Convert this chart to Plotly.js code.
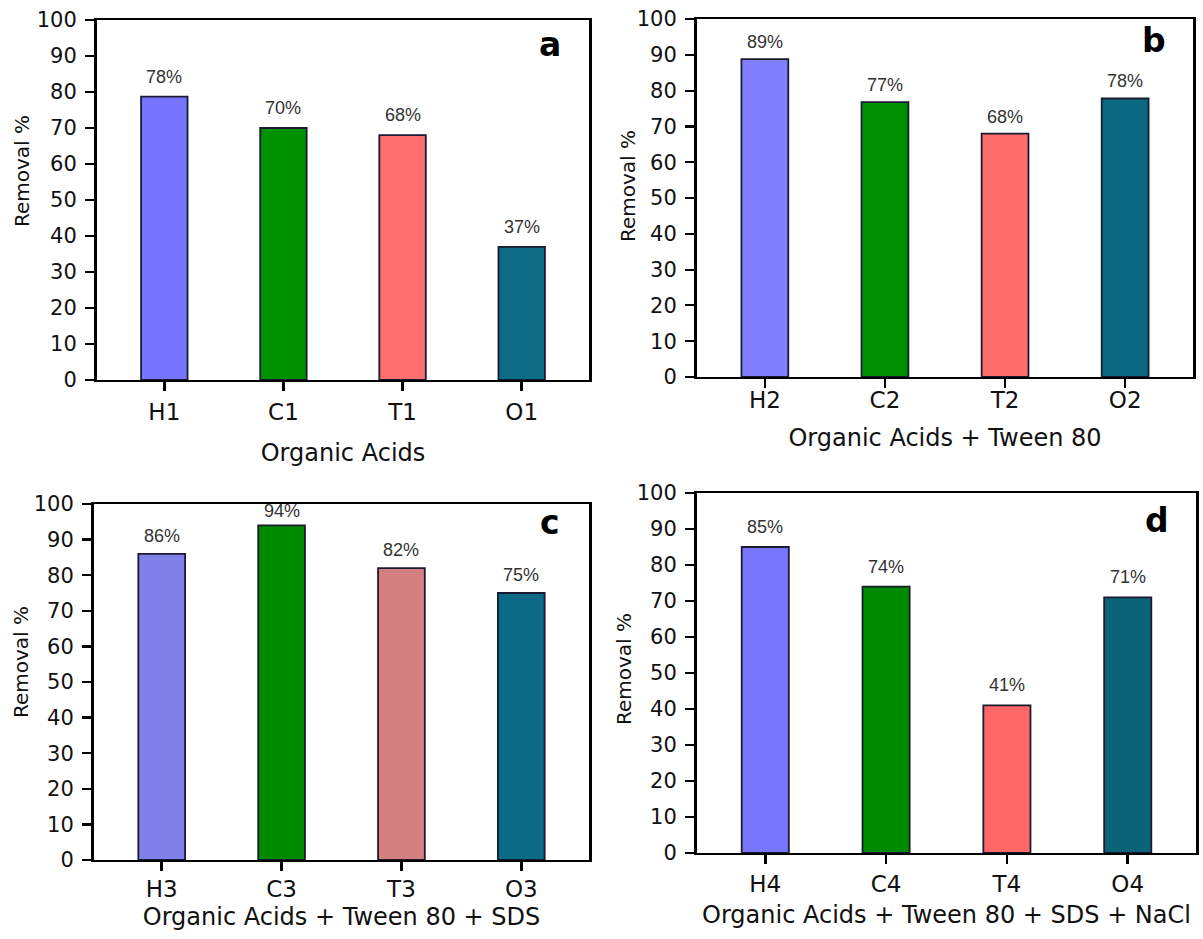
<!DOCTYPE html>
<html>
<head>
<meta charset="utf-8">
<script src="https://cdn.plot.ly/plotly-3.0.1.min.js"></script>
<style>
html,body{margin:0;padding:0;background:#ffffff;}
#chart{width:1203px;height:939px;}
</style>
</head>
<body>
<div id="chart"></div>
<script>
// ---- data ----
const catsA = ['H1', 'C1', 'T1', 'O1'];
const valsA = [78.7, 70, 68, 37];
const labsA = ['78%', '70%', '68%', '37%'];

const catsB = ['H2', 'C2', 'T2', 'O2'];
const valsB = [88.8, 76.8, 68, 77.8];
const labsB = ['89%', '77%', '68%', '78%'];

const catsC = ['H3', 'C3', 'T3', 'O3'];
const valsC = [86, 94, 82, 75];
const labsC = ['86%', '94%', '82%', '75%'];

const catsD = ['H4', 'C4', 'T4', 'O4'];
const valsD = [85, 74, 41, 71];
const labsD = ['85%', '74%', '41%', '71%'];

const xTitles = ['Organic Acids', 'Organic Acids + Tween 80', 'Organic Acids + Tween 80 + SDS', 'Organic Acids + Tween 80 + SDS + NaCl'];
const yTitle = 'Removal %';
const panelLetters = ['a', 'b', 'c', 'd'];
const yTickVals = [0, 10, 20, 30, 40, 50, 60, 70, 80, 90, 100];

// ---- styling / layout config ----
const W = 1203, H = 939;
const colorsA = ['#7474FF', '#009100', '#FF6F6F', '#0C6B85'];
const colorsB = ['#7F7FFF', '#008F00', '#FF6D6D', '#0B6A82'];
const colorsC = ['#8080E8', '#008A00', '#D48080', '#0B6A85'];
const colorsD = ['#7676FF', '#008A00', '#FF6666', '#0B6377'];

const panels = [
  {cats: catsA, vals: valsA, labs: labsA, colors: colorsA, xtitle: xTitles[0], letter: panelLetters[0],
   px: [97, 589], py: [20, 380], tlStand: 1, titleStand: 20, yTitlePos: [22, 171], letterPos: [550, 45], lblShift: 8},
  {cats: catsB, vals: valsB, labs: labsB, colors: colorsB, xtitle: xTitles[1], letter: panelLetters[1],
   px: [697, 1193], py: [19, 377], tlStand: -8, titleStand: 17, yTitlePos: [628, 186], letterPos: [1154, 40], lblShift: 5},
  {cats: catsC, vals: valsC, labs: labsC, colors: colorsC, xtitle: xTitles[2], letter: panelLetters[2],
   px: [94, 589], py: [504, 860], tlStand: -2, titleStand: 7, yTitlePos: [21, 662], letterPos: [550, 522], lblShift: 6},
  {cats: catsD, vals: valsD, labs: labsD, colors: colorsD, xtitle: xTitles[3], letter: panelLetters[3],
   px: [697, 1196], py: [493, 853], tlStand: 0, titleStand: 10, yTitlePos: [624, 669], letterPos: [1157, 520], lblShift: 8}
];

const tickFont = {family: 'DejaVu Sans, Arial, sans-serif', size: 21, color: '#111'};
const xTickFont = {family: 'DejaVu Sans, Arial, sans-serif', size: 23, color: '#111'};
const titleFont = {family: 'DejaVu Sans, Arial, sans-serif', size: 24, color: '#111'};

const data = [];
const layout = {
  width: W, height: H,
  margin: {l: 0, r: 0, t: 0, b: 0},
  paper_bgcolor: '#ffffff', plot_bgcolor: '#ffffff',
  showlegend: false,
  annotations: []
};

panels.forEach((p, i) => {
  const n = i === 0 ? '' : String(i + 1);
  const xa = 'x' + n, ya = 'y' + n;
  data.push({
    type: 'bar',
    x: p.cats,
    y: p.vals,
    xaxis: xa, yaxis: ya,
    width: 0.39,
    marker: {color: p.colors, line: {color: '#1a1a30', width: 1.8}},
    hoverinfo: 'x+y'
  });
  layout['xaxis' + n] = {
    domain: [p.px[0] / W, p.px[1] / W],
    anchor: ya,
    type: 'category',
    range: [-0.565, 3.565],
    showline: true, linecolor: '#000', linewidth: 2.4, mirror: true,
    ticks: 'outside', ticklen: 9, tickwidth: 2.6, tickcolor: '#000',
    ticklabelstandoff: p.tlStand,
    showgrid: false, zeroline: false,
    tickfont: xTickFont,
    title: {text: p.xtitle, font: titleFont, standoff: p.titleStand}
  };
  layout['yaxis' + n] = {
    domain: [1 - p.py[1] / H, 1 - p.py[0] / H],
    anchor: xa,
    range: [0, 100],
    tickmode: 'array', tickvals: yTickVals,
    showline: true, linecolor: '#000', linewidth: 3, mirror: true,
    ticks: 'outside', ticklen: 9, tickwidth: 2.2, tickcolor: '#000',
    ticklabelstandoff: 4,
    showgrid: false, zeroline: false,
    tickfont: tickFont
  };
  // value labels above bars (gap shrinks when close to the top frame)
  const pxPerUnit = (p.py[1] - p.py[0]) / 100;
  p.cats.forEach((c, j) => {
    const room = (100 - p.vals[j]) * pxPerUnit - 19;
    const shift = Math.max(0, Math.min(p.lblShift, room));
    layout.annotations.push({
      x: c, y: p.vals[j], xref: xa, yref: ya,
      text: p.labs[j], showarrow: false,
      xanchor: 'center', yanchor: 'bottom', yshift: shift,
      font: {family: 'Liberation Sans, Arial, sans-serif', size: 18, color: '#333333'}
    });
  });
  // y title
  layout.annotations.push({
    x: p.yTitlePos[0] / W, y: 1 - p.yTitlePos[1] / H, xref: 'paper', yref: 'paper',
    text: yTitle, textangle: -90, showarrow: false,
    xanchor: 'center', yanchor: 'middle',
    font: {family: 'DejaVu Sans, Arial, sans-serif', size: 20, color: '#111'}
  });
  // panel letter
  layout.annotations.push({
    x: p.letterPos[0] / W, y: 1 - p.letterPos[1] / H, xref: 'paper', yref: 'paper',
    text: '<b>' + p.letter + '</b>', showarrow: false,
    xanchor: 'center', yanchor: 'middle',
    font: {family: 'DejaVu Sans, Arial, sans-serif', size: 33, color: '#000'}
  });
});

Plotly.newPlot('chart', data, layout, {displayModeBar: false, staticPlot: true});
</script>
</body>
</html>
